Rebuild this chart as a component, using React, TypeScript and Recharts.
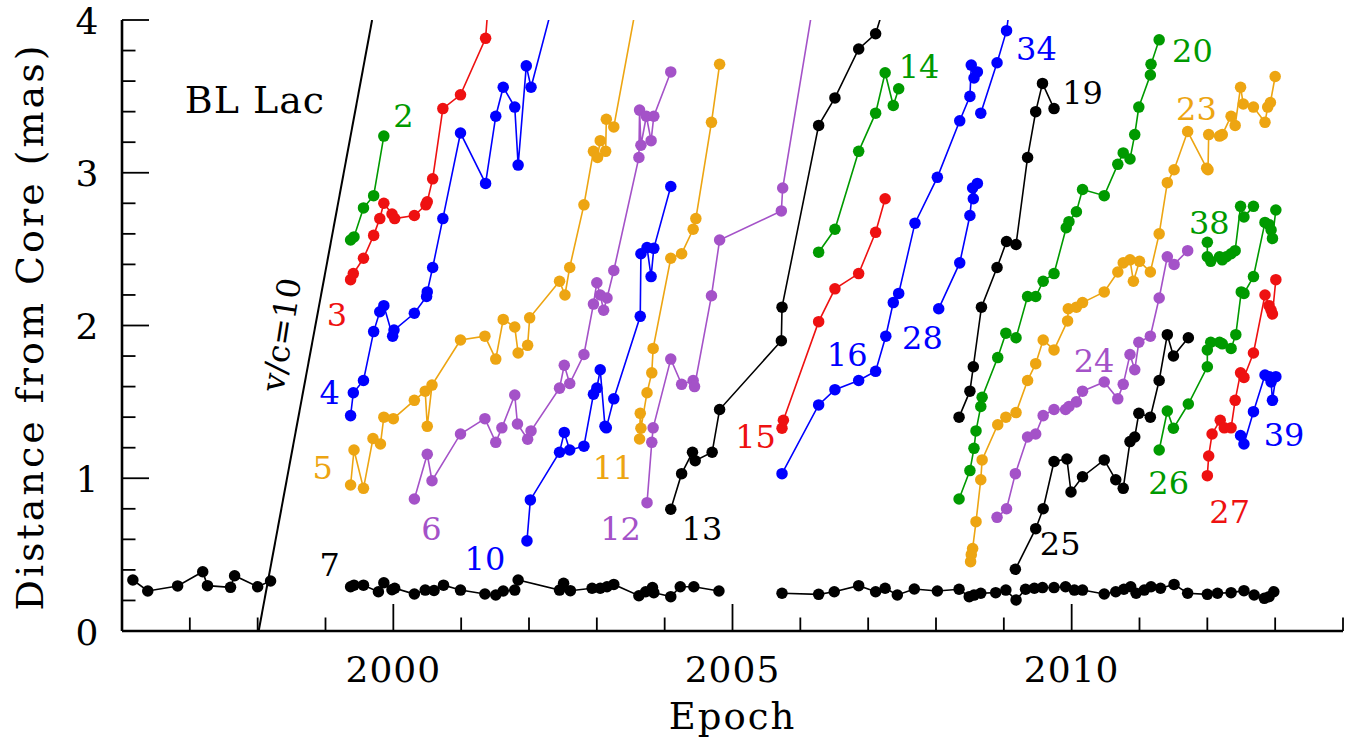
import {
  ComposedChart,
  Scatter,
  XAxis,
  YAxis,
  ZAxis,
  ReferenceLine,
  ReferenceDot,
  Label,
} from "recharts";

// [epoch, distance from core (mas)] for each jet component
const core7a = [[1996.16, 0.334], [1996.38, 0.262], [1996.82, 0.295], [1997.19, 0.388], [1997.26, 0.297], [1997.6, 0.286], [1997.66, 0.362], [1998.0, 0.29], [1998.19, 0.327]];
const core7b = [[1999.37, 0.29], [1999.42, 0.3], [1999.56, 0.3], [1999.78, 0.257], [1999.86, 0.316], [1999.98, 0.27], [2000.02, 0.28], [2000.31, 0.242], [2000.47, 0.268], [2000.6, 0.265], [2000.74, 0.3], [2000.99, 0.268], [2001.35, 0.242], [2001.51, 0.236], [2001.62, 0.262], [2001.79, 0.268], [2001.84, 0.334], [2002.45, 0.268], [2002.51, 0.312], [2002.61, 0.264], [2002.93, 0.28], [2003.05, 0.28], [2003.15, 0.29], [2003.25, 0.305], [2003.62, 0.231], [2003.72, 0.257], [2003.82, 0.284], [2003.84, 0.251], [2004.09, 0.225], [2004.23, 0.29], [2004.43, 0.29], [2004.8, 0.262]];
const core7c = [[2005.73, 0.247], [2006.27, 0.24], [2006.5, 0.257], [2006.86, 0.297], [2007.11, 0.257], [2007.25, 0.28], [2007.43, 0.236], [2007.68, 0.275], [2008.02, 0.262], [2008.34, 0.273], [2008.49, 0.225], [2008.56, 0.235], [2008.66, 0.247], [2008.88, 0.251], [2009.03, 0.268], [2009.18, 0.203], [2009.32, 0.273], [2009.45, 0.28], [2009.57, 0.284], [2009.74, 0.284], [2009.91, 0.29], [2010.04, 0.268], [2010.16, 0.268], [2010.48, 0.242], [2010.65, 0.257], [2010.77, 0.273], [2010.87, 0.29], [2010.95, 0.247], [2011.07, 0.268], [2011.17, 0.29], [2011.31, 0.28], [2011.51, 0.305], [2011.71, 0.247], [2012.0, 0.24], [2012.15, 0.247], [2012.35, 0.251], [2012.54, 0.264], [2012.69, 0.236], [2012.84, 0.214], [2012.91, 0.225], [2012.98, 0.257]];
const c2 = [[1999.37, 2.56], [1999.42, 2.58], [1999.56, 2.77], [1999.71, 2.85], [1999.86, 3.24]];
const c3 = [[1999.37, 2.3], [1999.41, 2.34], [1999.56, 2.44], [1999.71, 2.59], [1999.8, 2.7], [1999.86, 2.8], [1999.98, 2.73], [2000.02, 2.7], [2000.31, 2.72], [2000.48, 2.79], [2000.5, 2.81], [2000.58, 2.96], [2000.73, 3.42], [2000.99, 3.51], [2001.36, 3.88], [2001.45, 4.4]];
const c4 = [[1999.37, 1.41], [1999.41, 1.56], [1999.56, 1.64], [1999.71, 1.96], [1999.8, 2.09], [1999.86, 2.13], [1999.99, 1.93], [2000.01, 1.97], [2000.31, 2.08], [2000.49, 2.19], [2000.5, 2.22], [2000.58, 2.38], [2000.73, 2.7], [2000.99, 3.26], [2001.36, 2.93], [2001.51, 3.37], [2001.62, 3.56], [2001.79, 3.43], [2001.84, 3.05], [2001.96, 3.7], [2002.03, 3.56], [2002.45, 4.27]];
const c5 = [[1999.37, 0.956], [1999.42, 1.185], [1999.56, 0.934], [1999.7, 1.26], [1999.81, 1.224], [1999.86, 1.4], [2000.0, 1.39], [2000.31, 1.51], [2000.47, 1.57], [2000.5, 1.34], [2000.57, 1.61], [2000.99, 1.905], [2001.35, 1.93], [2001.51, 1.78], [2001.62, 2.04], [2001.79, 1.99], [2001.84, 1.82], [2001.98, 1.87], [2002.01, 2.05], [2002.45, 2.29], [2002.53, 2.2], [2002.6, 2.38], [2002.81, 2.79], [2002.95, 3.14], [2003.01, 3.1], [2003.05, 3.21], [2003.13, 3.14], [2003.14, 3.35], [2003.25, 3.3], [2003.65, 4.26]];
const c6 = [[2000.31, 0.864], [2000.5, 1.157], [2000.57, 0.984], [2000.99, 1.29], [2001.35, 1.39], [2001.51, 1.235], [2001.6, 1.33], [2001.79, 1.545], [2001.83, 1.355], [2001.98, 1.255], [2002.03, 1.31], [2002.45, 1.59], [2002.52, 1.74], [2002.6, 1.62], [2002.81, 1.81], [2002.95, 2.14], [2003.0, 2.28], [2003.05, 2.2], [2003.1, 2.1], [2003.15, 2.18], [2003.25, 2.36], [2003.62, 3.1], [2003.63, 3.41], [2003.65, 3.18], [2003.73, 3.37], [2003.8, 3.21], [2003.84, 3.37], [2004.09, 3.66]];
const c10 = [[2001.97, 0.59], [2002.02, 0.858], [2002.45, 1.17], [2002.52, 1.3], [2002.6, 1.185], [2002.81, 1.21], [2002.95, 1.55], [2003.0, 1.59], [2003.05, 1.71], [2003.12, 1.34], [2003.14, 1.33], [2003.25, 1.52], [2003.64, 2.06], [2003.65, 2.47], [2003.74, 2.51], [2003.8, 2.32], [2003.84, 2.505], [2004.09, 2.91]];
const c11 = [[2003.63, 1.257], [2003.64, 1.425], [2003.65, 1.327], [2003.74, 1.56], [2003.81, 1.69], [2003.83, 1.85], [2004.09, 2.44], [2004.25, 2.47], [2004.42, 2.63], [2004.46, 2.7], [2004.69, 3.33], [2004.81, 3.71]];
const c12 = [[2003.74, 0.84], [2003.81, 1.235], [2003.83, 1.33], [2004.09, 1.78], [2004.25, 1.615], [2004.42, 1.64], [2004.44, 1.6], [2004.69, 2.195], [2004.81, 2.56], [2005.72, 2.75], [2005.74, 2.9], [2006.27, 4.32]];
const c13 = [[2004.09, 0.797], [2004.25, 1.03], [2004.41, 1.17], [2004.45, 1.115], [2004.7, 1.17], [2004.81, 1.45], [2005.72, 1.9], [2005.73, 2.12], [2006.27, 3.31], [2006.51, 3.49], [2006.86, 3.81], [2007.11, 3.91], [2007.45, 4.4]];
const c14 = [[2006.27, 2.48], [2006.51, 2.63], [2006.86, 3.14], [2007.11, 3.39], [2007.25, 3.655], [2007.37, 3.44], [2007.45, 3.55]];
const c15 = [[2005.73, 1.327], [2005.75, 1.38], [2006.27, 2.025], [2006.51, 2.24], [2006.86, 2.34], [2007.11, 2.61], [2007.25, 2.83]];
const c16 = [[2005.73, 1.03], [2006.27, 1.48], [2006.51, 1.58], [2006.86, 1.64], [2007.11, 1.7], [2007.26, 1.93], [2007.37, 2.15], [2007.45, 2.21], [2007.69, 2.67], [2008.02, 2.97], [2008.35, 3.34], [2008.5, 3.5], [2008.52, 3.705], [2008.56, 3.62], [2008.61, 3.66]];
const c19 = [[2008.34, 1.4], [2008.5, 1.57], [2008.55, 1.73], [2008.67, 2.12], [2008.9, 2.38], [2009.04, 2.55], [2009.18, 2.53], [2009.35, 3.1], [2009.47, 3.4], [2009.57, 3.585], [2009.74, 3.42]];
const c20 = [[2008.34, 0.864], [2008.5, 1.05], [2008.56, 1.196], [2008.59, 1.31], [2008.66, 1.47], [2008.68, 1.53], [2008.91, 1.79], [2009.03, 1.95], [2009.18, 1.92], [2009.35, 2.19], [2009.47, 2.19], [2009.58, 2.29], [2009.74, 2.34], [2009.92, 2.64], [2009.96, 2.68], [2010.07, 2.745], [2010.16, 2.89], [2010.48, 2.85], [2010.68, 3.055], [2010.76, 3.13], [2010.86, 3.09], [2010.93, 3.25], [2010.99, 3.43], [2011.16, 3.64], [2011.17, 3.71], [2011.29, 3.87]];
const c23 = [[2008.51, 0.454], [2008.52, 0.5], [2008.54, 0.54], [2008.59, 0.716], [2008.66, 0.99], [2008.68, 1.12], [2008.91, 1.35], [2009.03, 1.4], [2009.18, 1.43], [2009.35, 1.64], [2009.47, 1.75], [2009.58, 1.905], [2009.74, 1.84], [2009.94, 2.03], [2009.95, 2.11], [2010.07, 2.12], [2010.16, 2.15], [2010.48, 2.22], [2010.68, 2.35], [2010.76, 2.41], [2010.86, 2.43], [2010.91, 2.29], [2011.0, 2.42], [2011.16, 2.35], [2011.29, 2.6], [2011.41, 2.935], [2011.51, 3.02], [2011.71, 3.27], [2011.99, 3.03], [2012.01, 3.02], [2012.02, 3.25], [2012.18, 3.24], [2012.22, 3.25], [2012.35, 3.37], [2012.41, 3.31], [2012.49, 3.56], [2012.53, 3.45], [2012.68, 3.43], [2012.85, 3.33], [2012.89, 3.43], [2012.93, 3.46], [2013.0, 3.63]];
const c24 = [[2008.9, 0.744], [2009.04, 0.8], [2009.17, 1.03], [2009.35, 1.27], [2009.47, 1.29], [2009.58, 1.41], [2009.74, 1.45], [2009.91, 1.45], [2009.96, 1.47], [2010.07, 1.5], [2010.16, 1.57], [2010.48, 1.63], [2010.68, 1.52], [2010.76, 1.615], [2010.86, 1.81], [2010.93, 1.71], [2010.99, 1.89], [2011.16, 1.93], [2011.29, 2.18], [2011.41, 2.45], [2011.51, 2.4], [2011.71, 2.49]];
const c25 = [[2009.17, 0.404], [2009.47, 0.67], [2009.58, 0.8], [2009.74, 1.11], [2009.93, 1.126], [2009.99, 0.91], [2010.16, 1.01], [2010.48, 1.12], [2010.65, 0.99], [2010.76, 0.934], [2010.86, 1.24], [2010.93, 1.27], [2010.99, 1.425], [2011.16, 1.4], [2011.29, 1.64], [2011.41, 1.94], [2011.5, 1.8], [2011.72, 1.92]];
const c26 = [[2011.29, 1.185], [2011.41, 1.44], [2011.5, 1.327], [2011.72, 1.486], [2012.0, 1.73], [2012.0, 1.84], [2012.05, 1.89], [2012.18, 1.89], [2012.22, 1.88], [2012.35, 1.85], [2012.42, 1.94], [2012.5, 2.22], [2012.54, 2.21], [2012.68, 2.32], [2012.85, 2.675], [2012.91, 2.66], [2012.94, 2.625], [2012.96, 2.57], [2013.01, 2.756]];
const c27 = [[2012.0, 1.017], [2012.02, 1.146], [2012.07, 1.29], [2012.19, 1.38], [2012.25, 1.33], [2012.35, 1.33], [2012.41, 1.51], [2012.49, 1.69], [2012.54, 1.66], [2012.68, 1.82], [2012.85, 2.2], [2012.91, 2.13], [2012.94, 2.1], [2012.96, 2.075], [2013.01, 2.3]];
const c28 = [[2008.04, 2.11], [2008.35, 2.41], [2008.5, 2.72], [2008.54, 2.9], [2008.55, 2.83], [2008.61, 2.93]];
const c34 = [[2008.66, 3.39], [2008.9, 3.72], [2009.04, 3.93], [2009.18, 4.4]];
const c38 = [[2012.0, 2.545], [2012.0, 2.45], [2012.05, 2.42], [2012.18, 2.45], [2012.22, 2.43], [2012.28, 2.45], [2012.35, 2.47], [2012.41, 2.49], [2012.49, 2.78], [2012.54, 2.71], [2012.68, 2.78]];
const c39 = [[2012.49, 1.28], [2012.54, 1.224], [2012.68, 1.436], [2012.85, 1.676], [2012.91, 1.665], [2012.94, 1.63], [2012.96, 1.51], [2013.01, 1.665]];

// component labels: [text, epoch, distance]
const componentLabels: [string, number, number][] = [
  ["2", 2000.15, 3.37], ["3", 1999.17, 2.07], ["4", 1999.06, 1.56], ["5", 1998.96, 1.07],
  ["6", 2000.56, 0.67], ["7", 1999.06, 0.43], ["10", 2001.35, 0.47], ["11", 2003.24, 1.07],
  ["12", 2003.35, 0.67], ["13", 2004.55, 0.67], ["14", 2007.75, 3.69], ["15", 2005.34, 1.27],
  ["16", 2006.69, 1.81], ["19", 2010.16, 3.52], ["20", 2011.78, 3.8], ["23", 2011.84, 3.42],
  ["24", 2010.33, 1.77], ["25", 2009.83, 0.57], ["26", 2011.43, 0.97], ["27", 2012.33, 0.78],
  ["28", 2007.8, 1.92], ["34", 2009.48, 3.81], ["38", 2012.03, 2.67], ["39", 2013.13, 1.28],
];

const xTicks = [1996, 1997, 1998, 1999, 2000, 2001, 2002, 2003, 2004, 2005, 2006, 2007, 2008, 2009, 2010, 2011, 2012, 2013, 2014];
const yTicks = [0, 0.2, 0.4, 0.6, 0.8, 1, 1.2, 1.4, 1.6, 1.8, 2, 2.2, 2.4, 2.6, 2.8, 3, 3.2, 3.4, 3.6, 3.8, 4];

// v/c = 10 reference line end points
const speedLine = [[1998.015, 0], [1999.687, 4]];

const RED = "#ee1111";
const GREEN = "#009a00";
const BLUE = "#0000ff";
const ORANGE = "#eda512";
const PURPLE = "#a452c8";
const BLACK = "#000000";
const FONT = "'DejaVu Serif', serif";

const series: { id: string; rows: number[][]; color: string }[] = [
  { id: "7a", rows: core7a, color: BLACK },
  { id: "7b", rows: core7b, color: BLACK },
  { id: "7c", rows: core7c, color: BLACK },
  { id: "2", rows: c2, color: GREEN },
  { id: "3", rows: c3, color: RED },
  { id: "4", rows: c4, color: BLUE },
  { id: "5", rows: c5, color: ORANGE },
  { id: "6", rows: c6, color: PURPLE },
  { id: "10", rows: c10, color: BLUE },
  { id: "11", rows: c11, color: ORANGE },
  { id: "12", rows: c12, color: PURPLE },
  { id: "13", rows: c13, color: BLACK },
  { id: "14", rows: c14, color: GREEN },
  { id: "15", rows: c15, color: RED },
  { id: "16", rows: c16, color: BLUE },
  { id: "19", rows: c19, color: BLACK },
  { id: "20", rows: c20, color: GREEN },
  { id: "23", rows: c23, color: ORANGE },
  { id: "24", rows: c24, color: PURPLE },
  { id: "25", rows: c25, color: BLACK },
  { id: "26", rows: c26, color: GREEN },
  { id: "27", rows: c27, color: RED },
  { id: "28", rows: c28, color: BLUE },
  { id: "34", rows: c34, color: BLUE },
  { id: "38", rows: c38, color: GREEN },
  { id: "39", rows: c39, color: BLUE },
];

const labelColor: Record<string, string> = {};
series.forEach((s) => (labelColor[s.id] = s.color));
labelColor["7"] = BLACK;

const MAJOR = 27;
const MINOR = 13.5;
const TICK_W = 1.8;

function BottomTick({ x, y, payload }: any) {
  const major = Math.round(payload.value) % 5 === 0;
  return (
    <g>
      <line x1={x} x2={x} y1={y} y2={y - (major ? MAJOR : MINOR)} stroke="#000" strokeWidth={TICK_W} />
      {major ? (
        <text x={x} y={y + 38} textAnchor="middle" dominantBaseline="central" fontSize={36} fontFamily={FONT} letterSpacing={1}>
          {payload.value}
        </text>
      ) : null}
    </g>
  );
}

function TopTick({ x, y, payload }: any) {
  const major = Math.round(payload.value) % 5 === 0;
  return <line x1={x} x2={x} y1={y} y2={y + (major ? MAJOR : MINOR)} stroke="#000" strokeWidth={TICK_W} />;
}

function LeftTick({ x, y, payload }: any) {
  const major = Math.abs(payload.value - Math.round(payload.value)) < 1e-6;
  return (
    <g>
      <line x1={x} x2={x + (major ? MAJOR : MINOR)} y1={y} y2={y} stroke="#000" strokeWidth={TICK_W} />
      {major ? (
        <text x={x - 35} y={y + 1} textAnchor="middle" dominantBaseline="central" fontSize={36} fontFamily={FONT}>
          {Math.round(payload.value)}
        </text>
      ) : null}
    </g>
  );
}

function RightTick({ x, y, payload }: any) {
  const major = Math.abs(payload.value - Math.round(payload.value)) < 1e-6;
  return <line x1={x} x2={x - (major ? MAJOR : MINOR)} y1={y} y2={y} stroke="#000" strokeWidth={TICK_W} />;
}

const axisLine = { stroke: "#000", strokeWidth: 2.6 };

export default function App() {
  return (
    <div style={{ position: "absolute", left: 0, top: 0, background: "#fff" }}>
      <ComposedChart width={1353} height={740} margin={{ top: 20, right: 10, bottom: 0, left: 0 }}>
        <XAxis
          xAxisId="b"
          dataKey="x"
          type="number"
          domain={[1996, 2014]}
          allowDataOverflow
          ticks={xTicks}
          interval={0}
          height={109}
          tickSize={0}
          tickMargin={0}
          tickLine={false}
          axisLine={axisLine}
          tick={<BottomTick />}
        >
          <Label
            content={(p: any) => {
              const vb = p.viewBox ?? { x: 122, y: 631, width: 1221, height: 109 };
              return (
                <text x={vb.x + vb.width / 2} y={vb.y + vb.height - 11} textAnchor="middle" fontSize={37} fontFamily={FONT} letterSpacing={2}>
                  Epoch
                </text>
              );
            }}
          />
        </XAxis>
        <XAxis
          xAxisId="t"
          orientation="top"
          type="number"
          domain={[1996, 2014]}
          allowDataOverflow
          ticks={xTicks}
          interval={0}
          height={0}
          tickSize={0}
          tickMargin={0}
          tickLine={false}
          axisLine={axisLine}
          tick={<TopTick />}
        />
        <YAxis
          yAxisId="l"
          dataKey="y"
          type="number"
          domain={[0, 4]}
          allowDataOverflow
          ticks={yTicks}
          interval={0}
          width={122}
          tickSize={0}
          tickMargin={0}
          tickLine={false}
          axisLine={axisLine}
          tick={<LeftTick />}
        >
          <Label
            content={(p: any) => {
              const vb = p.viewBox ?? { x: 0, y: 20, width: 122, height: 611 };
              const cx = vb.x + 30;
              const cy = vb.y + vb.height / 2 + 1;
              return (
                <text
                  x={cx}
                  y={cy}
                  transform={`rotate(-90, ${cx}, ${cy})`}
                  textAnchor="middle"
                  dominantBaseline="central"
                  fontSize={38}
                  fontFamily={FONT}
                  letterSpacing={3}
                >
                  Distance from Core (mas)
                </text>
              );
            }}
          />
        </YAxis>
        <YAxis
          yAxisId="r"
          orientation="right"
          type="number"
          domain={[0, 4]}
          allowDataOverflow
          ticks={yTicks}
          interval={0}
          width={0}
          tickSize={0}
          tickMargin={0}
          tickLine={false}
          axisLine={axisLine}
          tick={<RightTick />}
        />
        <ZAxis zAxisId="dots" range={[104, 104]} />

        <ReferenceLine
          xAxisId="b"
          yAxisId="l"
          segment={speedLine.map(([x, y]) => ({ x, y }))}
          stroke="#000"
          strokeWidth={2}
          ifOverflow="hidden"
        />

        {series.map((s) => (
          <Scatter
            key={s.id}
            xAxisId="b"
            yAxisId="l"
            zAxisId="dots"
            data={s.rows.map(([x, y]) => ({ x, y }))}
            dataKey="y"
            fill={s.color}
            line={{ stroke: s.color, strokeWidth: 1.6 }}
            lineType="joint"
            shape="circle"
            isAnimationActive={false}
          />
        ))}

        <ReferenceDot
          xAxisId="b"
          yAxisId="l"
          x={1997.96}
          y={3.476}
          r={0}
          ifOverflow="visible"
          shape={(p: any) => (
            <text x={p.cx} y={p.cy} textAnchor="middle" dominantBaseline="central" fontSize={38} fontFamily={FONT} letterSpacing={1}>
              BL Lac
            </text>
          )}
        />
        <ReferenceDot
          xAxisId="b"
          yAxisId="l"
          x={1998.35}
          y={1.94}
          r={0}
          ifOverflow="visible"
          shape={(p: any) => (
            <text
              x={p.cx}
              y={p.cy}
              transform={`rotate(-81, ${p.cx}, ${p.cy})`}
              textAnchor="middle"
              dominantBaseline="central"
              fontSize={32}
              fontFamily={FONT}
            >
              v/c=10
            </text>
          )}
        />
        {componentLabels.map(([t, x, y]) => (
          <ReferenceDot
            key={"lab" + t}
            xAxisId="b"
            yAxisId="l"
            x={x}
            y={y}
            r={0}
            ifOverflow="visible"
            shape={(p: any) => (
              <text x={p.cx} y={p.cy} textAnchor="middle" dominantBaseline="central" fontSize={32} fontFamily={FONT} fill={labelColor[t]}>
                {t}
              </text>
            )}
          />
        ))}
      </ComposedChart>
    </div>
  );
}
